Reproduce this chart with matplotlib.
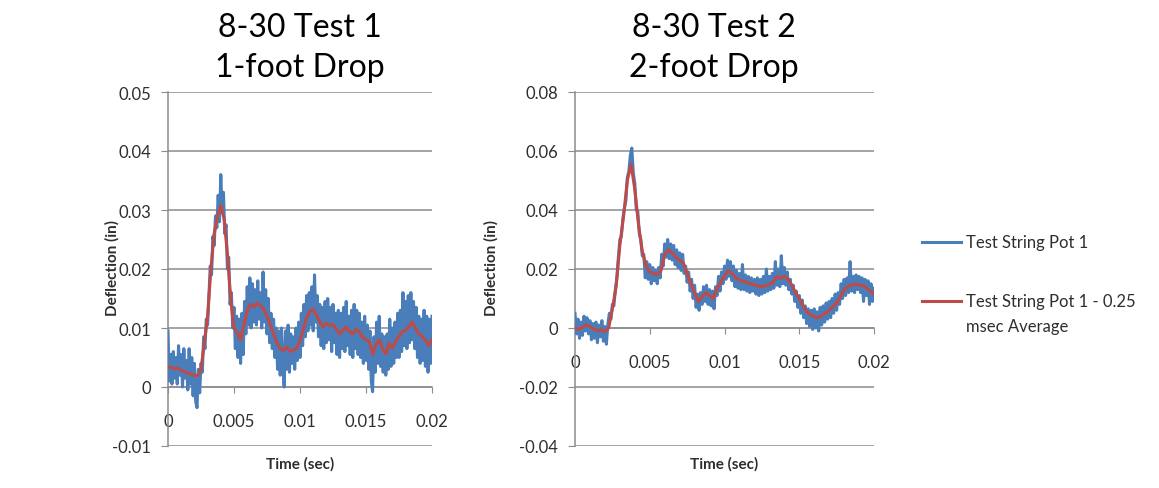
import numpy as np
import matplotlib.pyplot as plt
from matplotlib.lines import Line2D

plt.rcParams['font.family'] = ['Lato', 'DejaVu Sans']

BLUE = '#4a7ebb'
RED = '#be4b48'
GRID = '#8c8c8c'
TXT = '#2e2e2e'

# sample times in msec (raw pot every 0.1 ms, running average every 0.25 ms)
t_raw = np.arange(201) * 0.1
t_avg = np.arange(81) * 0.25

# deflections in thousandths of an inch
test1_raw = [
    9.5, 1.0, 5.5, 0.5, 6.0, 1.5, 5.0, 0.5, 7.0, 2.0,
    5.5, 0.0, 6.5, 1.5, 4.5, -0.5, 6.5, 0.5, 5.0, -1.5,
    4.0, -2.5, -3.5, 3.0, -1.0, 4.0, 2.5, 8.5, 6.5, 11.5,
    10.5, 15.5, 20.5, 19.0, 25.5, 24.0, 29.0, 27.0, 32.5, 28.0,
    36.0, 29.5, 33.0, 26.0, 27.5, 20.0, 22.0, 14.0, 16.0, 10.0,
    13.5, 6.5, 12.0, 5.0, 11.5, 4.0, 12.5, 5.5, 14.5, 9.0,
    17.0, 10.5, 18.5, 10.0, 17.5, 11.0, 16.5, 10.5, 18.0, 11.5,
    16.0, 10.0, 19.5, 11.0, 16.5, 9.0, 15.0, 7.5, 12.5, 6.5,
    11.5, 5.0, 10.0, 3.0, 9.5, 2.0, 10.0, 3.5, 0.0, 9.5,
    3.0, 10.5, 2.5, 9.0, 4.0, 8.5, 3.0, 10.0, 4.5, 11.0,
    5.0, 12.5, 7.0, 14.0, 8.5, 15.5, 9.5, 16.0, 10.5, 17.0,
    9.5, 19.0, 11.0, 15.5, 8.5, 14.0, 7.0, 13.5, 6.5, 14.5,
    7.5, 15.0, 8.0, 13.5, 6.0, 14.0, 7.5, 12.5, 5.5, 13.0,
    5.0, 12.5, 6.5, 13.5, 6.0, 14.5, 7.0, 12.0, 5.5, 13.0,
    5.0, 14.0, 6.5, 13.0, 5.5, 12.5, 5.0, 11.0, 4.0, 12.0,
    4.5, 10.5, 3.0, 9.5, 1.0, -0.8, 8.5, 2.5, 11.0, 4.0,
    12.0, 3.5, 9.0, 2.5, 8.5, 2.0, 9.0, 3.0, 11.5, 3.5,
    10.0, 4.0, 11.0, 5.0, 12.5, 5.0, 13.0, 6.0, 16.0, 7.0,
    14.5, 6.5, 15.5, 7.5, 16.0, 8.0, 14.5, 6.5, 13.5, 5.0,
    12.0, 4.0, 11.5, 4.5, 13.0, 3.5, 12.0, 2.5, 11.5, 4.0,
    12.0,
]
test1_avg = [
    3.4, 3.3, 3.1, 3.2, 2.8, 2.6, 2.3, 2.2, 1.9, 2.0,
    3.0, 7.5, 12.0, 20.0, 26.0, 29.0, 30.8, 28.5, 22.5, 15.0,
    10.0, 9.2, 8.0, 10.5, 13.0, 14.0, 13.6, 14.2, 13.8, 13.2,
    12.0, 10.5, 9.0, 7.5, 6.5, 6.2, 6.8, 6.0, 6.3, 6.5,
    7.8, 9.8, 11.8, 12.8, 13.2, 12.2, 11.0, 10.2, 10.8, 10.4,
    10.6, 9.8, 9.0, 9.6, 10.2, 9.4, 9.0, 9.8, 9.4, 8.4,
    8.0, 7.8, 5.5, 7.2, 8.0, 6.5, 5.6, 7.4, 6.6, 7.8,
    8.6, 9.4, 9.6, 10.2, 11.0, 10.0, 9.0, 8.6, 8.0, 7.0,
    8.0,
]
test2_raw = [
    5.0, -2.0, 3.0, -3.5, 2.0, -2.5, 4.0, -1.0, 3.5, -2.0,
    2.5, -4.0, 1.5, -3.5, 2.0, -5.0, 1.0, -3.0, 2.5, -4.5,
    0.5, -5.5, 1.5, 5.0, 3.0, 8.0, 7.5, 13.0, 17.0, 24.0,
    30.0, 31.0, 37.0, 40.5, 43.0, 51.0, 53.0, 58.5, 61.0, 52.5,
    49.0, 40.0, 39.5, 32.0, 30.0, 24.5, 25.0, 17.0, 22.5, 16.5,
    21.5, 15.0, 20.5, 16.0, 19.5, 15.0, 20.5, 17.0, 25.0, 21.0,
    28.5, 24.0, 30.0, 23.5, 28.5, 23.0, 28.0, 21.5, 26.5, 20.5,
    25.5, 19.5, 25.0, 18.5, 21.0, 15.5, 19.0, 12.5, 16.5, 10.0,
    14.5, 7.0, 11.5, 6.0, 12.0, 8.0, 14.0, 9.0, 14.5, 8.0,
    13.0, 7.5, 12.5, 6.5, 14.0, 11.0, 17.5, 12.5, 19.0, 15.0,
    21.0, 16.5, 23.0, 17.5, 22.5, 16.0, 21.0, 14.0, 19.5, 13.5,
    18.5, 13.0, 21.5, 13.0, 18.0, 12.5, 17.5, 12.0, 17.0, 12.5,
    16.5, 11.5, 17.0, 11.0, 16.5, 11.5, 17.5, 12.0, 20.0, 12.5,
    17.5, 13.0, 18.5, 13.5, 22.5, 14.5, 20.0, 14.0, 24.5, 15.0,
    20.5, 14.5, 19.0, 13.0, 16.5, 11.5, 14.5, 9.0, 12.5, 7.0,
    11.0, 5.0, 9.5, 3.5, 7.5, 1.5, 6.5, 0.5, 6.0, -0.5,
    6.5, 0.0, 5.5, -1.0, 7.0, 1.0, 7.5, 2.0, 8.5, 3.0,
    9.0, 3.5, 10.0, 5.0, 11.5, 6.0, 12.0, 8.0, 15.0, 10.0,
    16.5, 11.0, 17.0, 12.0, 22.5, 12.5, 17.5, 12.0, 18.0, 13.0,
    17.5, 12.0, 17.0, 9.0, 16.5, 11.0, 16.0, 8.0, 15.0, 9.0,
    13.5,
]
test2_avg = [
    0.0, -0.5, 0.3, 1.0, 0.5, -0.3, -1.0, -0.5, -1.2, 0.0,
    6.5, 14.0, 28.0, 38.0, 50.0, 55.5, 47.0, 35.0, 26.0, 21.0,
    19.0, 18.5, 18.0, 19.5, 25.0, 26.5, 25.5, 24.0, 23.0, 22.0,
    18.5, 15.0, 12.0, 9.0, 10.5, 12.0, 11.0, 10.0, 13.5, 15.5,
    17.5, 19.5, 18.5, 17.0, 16.2, 15.8, 15.5, 15.0, 14.6, 14.2,
    14.0, 14.3, 14.8, 15.5, 17.5, 16.8, 17.5, 16.5, 14.5, 12.0,
    10.0, 7.5, 5.5, 4.5, 3.8, 3.5, 4.2, 5.0, 6.0, 7.2,
    8.5, 10.5, 13.0, 14.0, 14.6, 14.8, 14.6, 14.5, 13.5, 12.5,
    11.5,
]

x_ticks = [0, 0.005, 0.01, 0.015, 0.02]
y_ticks1 = [-0.01, 0, 0.01, 0.02, 0.03, 0.04, 0.05]
y_ticks2 = [-0.04, -0.02, 0, 0.02, 0.04, 0.06, 0.08]

fig = plt.figure(figsize=(11.59, 4.89), dpi=100)
ax1 = fig.add_axes([168 / 1159, 42 / 489, 264 / 1159, 354 / 489])
ax2 = fig.add_axes([575 / 1159, 42 / 489, 299 / 1159, 354 / 489])


def draw_panel(ax, raw, avg, y_ticks):
    ax.plot(t_raw / 1000, np.array(raw) / 1000, color=BLUE, lw=2.2, zorder=3)
    ax.plot(t_avg / 1000, np.array(avg) / 1000, color=RED, lw=2.2, zorder=4)
    ax.set_xlim(0, 0.02)
    ax.set_ylim(y_ticks[0], y_ticks[-1])
    ax.set_xticks(x_ticks)
    ax.set_xticklabels([f'{v:g}' for v in x_ticks])
    ax.set_yticks(y_ticks)
    ax.set_yticklabels([f'{v:g}' for v in y_ticks])
    ax.grid(axis='y', color=GRID, lw=1.1)
    ax.set_axisbelow(True)
    ax.spines['top'].set_visible(False)
    ax.spines['right'].set_visible(False)
    ax.spines['bottom'].set_position(('data', 0))
    ax.spines['bottom'].set_color(GRID)
    ax.spines['left'].set_color(GRID)
    ax.spines['bottom'].set_linewidth(1.1)
    ax.spines['left'].set_linewidth(1.1)
    ax.tick_params(axis='x', direction='out', length=4, color=GRID,
                   pad=15, labelsize=12, labelcolor=TXT)
    ax.tick_params(axis='y', direction='out', length=5, color=GRID,
                   pad=7, labelsize=12, labelcolor=TXT)


draw_panel(ax1, test1_raw, test1_avg, y_ticks1)
draw_panel(ax2, test2_raw, test2_avg, y_ticks2)

# titles and axis labels
W, H = 1159, 489
for cx, lines in [(300, ['8-30 Test 1', '1-foot Drop']),
                  (714, ['8-30 Test 2', '2-foot Drop'])]:
    fig.text(cx / W, 1 - 28 / H, lines[0], ha='center', va='center', fontsize=23, color='black')
    fig.text(cx / W, 1 - 68 / H, lines[1], ha='center', va='center', fontsize=23, color='black')

for cx, lx in [(300, 112), (724, 491)]:
    fig.text(lx / W, 1 - 268 / H, 'Deflection (in)', rotation=90, ha='center', va='center',
             fontsize=11, fontweight='bold', color=TXT)
    fig.text(cx / W, 1 - 464 / H, 'Time (sec)', ha='center', va='center',
             fontsize=11, fontweight='bold', color=TXT)

# legend, drawn by hand so the red key lines up with the first text line
fig.add_artist(Line2D([922 / W, 961 / W], [1 - 243 / H] * 2, color=BLUE, lw=2.2))
fig.text(966 / W, 1 - 243 / H, 'Test String Pot 1', ha='left', va='center', fontsize=12, color=TXT)
fig.add_artist(Line2D([922 / W, 961 / W], [1 - 302 / H] * 2, color=RED, lw=2.2))
fig.text(966 / W, 1 - 302 / H, 'Test String Pot 1 - 0.25', ha='left', va='center', fontsize=12, color=TXT)
fig.text(966 / W, 1 - 327 / H, 'msec Average', ha='left', va='center', fontsize=12, color=TXT)

fig.savefig('out.png', dpi=100)
